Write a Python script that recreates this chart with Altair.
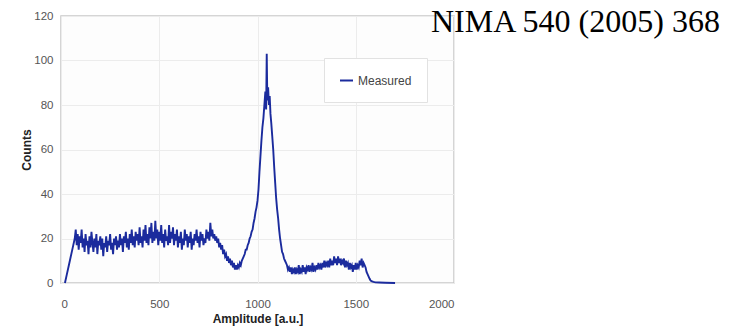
import altair as alt
import pandas as pd

# rising edge (explicit)
rise_amp = [20, 30, 40, 50, 60, 70, 75]
rise_counts = [0, 4, 8, 12, 16, 20, 24]

# flat Compton-like plateau, 5 a.u. bins from 80
plateau_start = 80
plateau_counts = [
    17, 22, 15, 21, 18, 24, 16, 20, 14, 22, 17, 19, 13, 21, 16, 23, 18, 14, 20, 16,
    22, 13, 19, 17, 21, 15, 20, 12, 18, 16, 21, 14, 19, 17, 22, 15, 18, 13, 20, 17,
    21, 15, 19, 16, 22, 17, 20, 14, 21, 18, 23, 16, 20, 15, 22, 18, 24, 17, 21, 16,
    23, 19, 22, 17, 25, 18, 21, 16, 24, 19, 26, 18, 22, 17, 25, 20, 27, 18, 23, 19,
    28, 20, 24, 17, 23, 19, 26, 18, 22, 16, 24, 19, 21, 17, 26, 18, 23, 20, 25, 17,
    22, 19, 24, 16, 21, 18, 23, 15, 20, 17, 24, 19, 22, 16, 21, 18, 23, 15, 20, 17,
    22, 19, 24, 18, 21, 16, 23, 19, 22, 17, 20, 18, 24, 20, 23, 19, 27, 21, 24, 20,
    22, 19, 21,
]

# valley before the peak, 5 a.u. bins from 795
valley_start = 795
valley_counts = [
    18, 20, 16, 18, 15, 17, 13, 15, 12, 13, 10, 12, 9, 11, 8, 10, 7, 9, 6, 8,
    6, 8, 7, 9, 8, 10, 11, 12, 13, 15, 15, 17, 18, 20, 21, 23, 24, 27, 29, 32,
    34, 37,
]

# photo peak (explicit)
peak_amp = [1005, 1010, 1015, 1020, 1025, 1030, 1035, 1040, 1044, 1047, 1050, 1054,
            1058, 1062, 1066, 1070, 1075, 1080, 1085, 1090, 1095, 1100, 1105, 1110, 1115]
peak_counts = [42, 50, 57, 64, 70, 74, 80, 86, 78, 103, 82, 88,
               80, 84, 76, 72, 66, 60, 52, 45, 38, 33, 29, 24, 20]

# high-energy shoulder, 5 a.u. bins from 1120
shoulder_start = 1120
shoulder_counts = [
    17, 14, 13, 11, 10, 9, 8, 6, 7, 5, 7, 4, 6, 5, 7, 4, 6, 5, 8, 4,
    6, 5, 8, 5, 7, 4, 7, 6, 8, 5, 7, 6, 9, 5, 7, 6, 8, 6, 9, 7,
    8, 6, 9, 7, 10, 7, 9, 8, 10, 7, 11, 8, 10, 8, 12, 9, 11, 8, 12, 9,
    11, 8, 10, 9, 11, 7, 10, 8, 9, 6, 9, 7, 8, 5, 8, 6, 9, 6, 8, 7,
    10, 8, 11, 7, 9, 8, 7, 5, 4, 3, 2, 1.2, 0.8,
]

# tail (explicit)
tail_amp = [1590, 1600, 1620, 1650, 1700]
tail_counts = [0.5, 0.3, 0.2, 0.1, 0]

x_ticks = [0, 500, 1000, 1500, 2000]
y_ticks = [0, 20, 40, 60, 80, 100, 120]
ref_text = ["NIMA 540 (2005) 368"]

amplitude = (
    rise_amp
    + [plateau_start + 5 * i for i in range(len(plateau_counts))]
    + [valley_start + 5 * i for i in range(len(valley_counts))]
    + peak_amp
    + [shoulder_start + 5 * i for i in range(len(shoulder_counts))]
    + tail_amp
)
counts = rise_counts + plateau_counts + valley_counts + peak_counts + shoulder_counts + tail_counts
series = ["Measured"] * len(amplitude)

df = pd.DataFrame({"Amplitude": amplitude, "Counts": counts, "Series": series})

line = alt.Chart(df).mark_line(strokeWidth=1.9).encode(
    x=alt.X(
        "Amplitude:Q",
        scale=alt.Scale(domain=[0, 2000], nice=False),
        axis=alt.Axis(values=x_ticks, title="Amplitude [a.u.]", labelPadding=15,
                      titlePadding=4, format="d"),
    ),
    y=alt.Y(
        "Counts:Q",
        scale=alt.Scale(domain=[0, 120], nice=False),
        axis=alt.Axis(values=y_ticks, title="Counts", labelPadding=8, titlePadding=0),
    ),
    color=alt.Color(
        "Series:N",
        scale=alt.Scale(range=["#1b2b9d"]),
        legend=alt.Legend(
            title=None, orient="none", legendX=263, legendY=42,
            symbolType="stroke", symbolSize=169, symbolStrokeWidth=2,
            labelFontSize=12, labelColor="#444", labelFont="Liberation Sans",
            padding=15, strokeColor="#e2e2e2", fillColor="#ffffff",
        ),
    ),
    order="Amplitude:Q",
)

note = alt.Chart(pd.DataFrame({"t": ref_text})).mark_text(
    align="left", baseline="alphabetic", font="Liberation Serif", fontSize=32, color="#000"
).encode(text="t:N", x=alt.value(370), y=alt.value(16))

chart = alt.layer(line, note).properties(
    width=393, height=267,
    autosize=alt.AutoSizeParams(type="none"),
    padding={"left": 53, "top": 8, "right": 274, "bottom": 44},
).configure_view(
    stroke="#c8c8c8", strokeWidth=1.5, fill="#fdfdfd"
).configure_axis(
    domain=False, ticks=False, grid=True, gridColor="#ececec",
    labelFont="Liberation Sans", labelFontSize=11.5, labelColor="#555",
    titleFont="Liberation Sans", titleFontSize=12, titleFontWeight="bold", titleColor="#222",
)

chart.save("out.html", embed_options={"renderer": "svg", "actions": False})
